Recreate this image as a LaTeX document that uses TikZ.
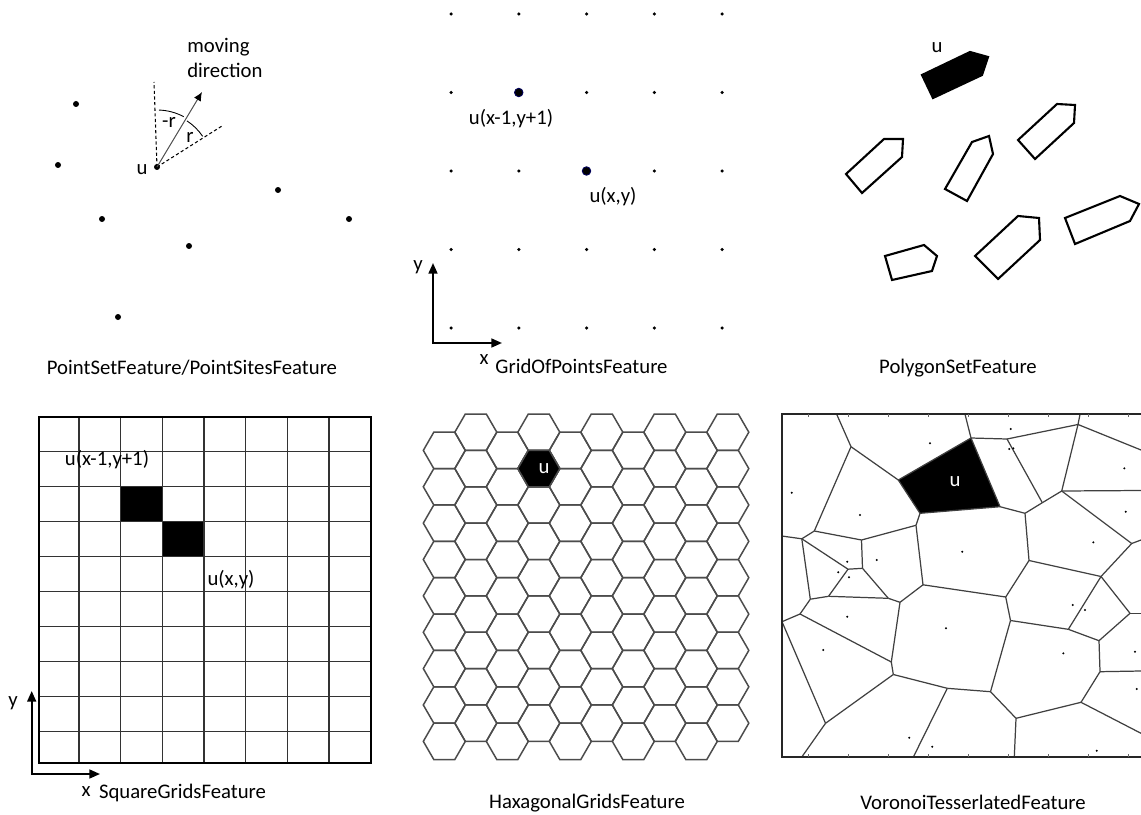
\documentclass[tikz,border=0pt]{standalone}
\usepackage{fontspec}
\setmainfont{Carlito}
\usetikzlibrary{arrows.meta, calc}

\begin{document}
\begin{tikzpicture}[
    x=0.02cm, y=-0.02cm,
    font=\fontsize{11.8}{14}\selectfont,
    site/.style={circle, fill=black, inner sep=0pt, minimum size=0.12cm},
    gpoint/.style={circle, fill=black, inner sep=0pt, minimum size=0.07cm},
    gpick/.style={circle, fill=black, draw=blue!35!black, line width=0.5pt,
      inner sep=0pt, minimum size=0.17cm},
    seed/.style={circle, fill=black, inner sep=0pt, minimum size=0.045cm},
    lbl/.style={inner sep=0pt},
    caption/.style={inner sep=0pt},
    guide/.style={dash pattern=on 1.8pt off 1.4pt, line width=0.6pt},
    movearrow/.style={draw=black!70, line width=0.55pt,
      -{Latex[length=5pt, width=4.5pt, black]}},
    axispair/.style={line width=1.1pt,
      {Triangle[length=6pt, width=5pt]}-{Triangle[length=6pt, width=5pt]}},
    boat/.style={line width=1.2pt, line join=miter},
    sqcell/.style={draw=black!80, line width=0.75pt},
    sqframe/.style={draw=black, line width=1.1pt},
    hexcell/.style={draw=black!70, line width=0.85pt},
    vedge/.style={draw=black!75, line width=0.7pt},
    vframe/.style={draw=black!85, line width=1.2pt}
  ]
  \useasboundingbox (0,0) rectangle (1141,814);

  % ---- PointSetFeature ----
  \node[site] (u1) at (157,167) {};
  \foreach \px/\py [count=\k] in {76/104, 58/165, 278/190, 349/219, 102/219, 189/246, 118/317}
    \node[site] (ps\k) at (\px,\py) {};
  \coordinate (dirv)   at (154,82);
  \coordinate (dirr)   at (222,126);
  \coordinate (dirtip) at (202,92);
  \draw[guide] (u1.center) -- (dirv);
  \draw[guide] (u1.center) -- (dirr);
  \draw[movearrow] (u1.center) -- (dirtip);
  \draw[line width=0.5pt] ($(u1.center)+(62:1.14cm)$) arc[start angle=62, end angle=88, radius=1.14cm];
  \draw[line width=0.5pt] ($(u1.center)+(34:1.1cm)$) arc[start angle=34, end angle=57, radius=1.1cm];
  \node[lbl] (u1l)  at (142,170) {u};
  \node[lbl] (rneg) at (169,122) {-r};
  \node[lbl] (rpos) at (190,137) {r};
  \node[lbl, anchor=west, align=left, font=\fontsize{11.8}{14.7}\selectfont] (mvdir) at (187,58)
    {moving\\direction};
  \node[caption] (cap1) at (192,368) {PointSetFeature/PointSitesFeature};

  % ---- GridOfPointsFeature ----
  \foreach \i in {0,...,4}
    \foreach \j in {0,...,4}
      \node[gpoint] (g\i\j) at (451+67.75*\i, 14+78.5*\j) {};
  \node[gpick] (gu1) at (g11) {};
  \node[gpick] (gu2) at (g22) {};
  \node[lbl] (gu1l) at (511,119) {u(x-1,y+1)};
  \node[lbl] (gu2l) at (613,197) {u(x,y)};
  \coordinate (go) at (433,343);
  \coordinate (gy) at (433,263);
  \coordinate (gx) at (502,343);
  \draw[axispair] (gy) -- (go) -- (gx);
  \node[lbl] (gyl) at (418,267) {y};
  \node[lbl] (gxl) at (484,360) {x};
  \node[caption] (cap2) at (581.5,366) {GridOfPointsFeature};

  % ---- PolygonSetFeature ----
  \filldraw[boat] (922,75) -- (970,52) -- (988,57) -- (982,75) -- (933,98) -- cycle;
  \draw[boat] (846,174) -- (884,139) -- (903,139) -- (902,157) -- (862,193) -- cycle;
  \draw[boat] (945,189) -- (972,142) -- (989,136) -- (993,154) -- (967,201) -- cycle;
  \draw[boat] (1018,140) -- (1057,104) -- (1075,105) -- (1074,123) -- (1035,159) -- cycle;
  \draw[boat] (885,256) -- (924,245) -- (937,256) -- (932,271) -- (892,280) -- cycle;
  \draw[boat] (975,256) -- (1018,216) -- (1039,218) -- (1040,240) -- (998,279) -- cycle;
  \draw[boat] (1065,218) -- (1120,196) -- (1139,204) -- (1130,221) -- (1075,244) -- cycle;
  \node[lbl] (pu) at (937,48) {u};
  \node[caption] (cap3) at (958,368) {PolygonSetFeature};

  % ---- SquareGridsFeature ----
  \fill (120.8,486.7) rectangle (162.45,521.7);
  \fill (162.45,521.7) rectangle (204.1,556.7);
  \foreach \k in {1,...,7}
    \draw[sqcell] (37.5+41.65*\k,416.7) -- (37.5+41.65*\k,762.7);
  \foreach \k in {1,...,9}
    \draw[sqcell] (39.3,416.7+35*\k) -- (370.7,416.7+35*\k);
  \draw[sqframe] (39.3,416.7) rectangle (370.7,762.7);
  \node[lbl] (su1l) at (107,460) {u(x-1,y+1)};
  \node[lbl] (su2l) at (231,580) {u(x,y)};
  \coordinate (so) at (31.7,774);
  \coordinate (sy) at (31.7,691);
  \coordinate (sx) at (100,774);
  \draw[axispair] (sy) -- (so) -- (sx);
  \node[lbl] (syl) at (13,703) {y};
  \node[lbl] (sxl) at (86,792) {x};
  \node[caption] (cap4) at (182.5,793) {SquareGridsFeature};

  % ---- HaxagonalGridsFeature ----
  \foreach \c in {0,...,9}
    \foreach \r in {0,...,8} {
      \pgfmathsetmacro\hx{444.3+31.5*\c}
      \pgfmathsetmacro\hy{432.2+36.37*\r+18.19*(1-mod(\c,2))}
      \draw[hexcell] (\hx-21,\hy) -- ++(10.5,-18.19) -- ++(21,0) -- ++(10.5,18.19)
        -- ++(-10.5,18.19) -- ++(-21,0) -- cycle;
    }
  \filldraw[hexcell, fill=black] (517.8,468.6) -- ++(10.5,-18.19) -- ++(21,0) -- ++(10.5,18.19)
    -- ++(-10.5,18.19) -- ++(-21,0) -- cycle;
  \node[lbl, text=white] (hu) at (544,469) {u};
  \node[caption] (cap5) at (587,803) {HaxagonalGridsFeature};

  % ---- VoronoiTesserlatedFeature ----
  \coordinate (vA)  at (836.7,414.3);  \coordinate (vB)  at (851,446.7);
  \coordinate (vC)  at (898.3,480);    \coordinate (vD)  at (814.3,531);
  \coordinate (vE)  at (971,438);      \coordinate (vF)  at (1000,506.7);
  \coordinate (vG)  at (920,513.3);    \coordinate (vH)  at (1007,439);
  \coordinate (vI)  at (1078,424.5);   \coordinate (vJ)  at (1042.3,502.7);
  \coordinate (vK)  at (1025,513.3);   \coordinate (vL)  at (1061.7,491);
  \coordinate (vM)  at (1131.7,543.5); \coordinate (vN)  at (1101,576.5);
  \coordinate (vO)  at (1029,560.5);   \coordinate (vP)  at (1130,613.3);
  \coordinate (vQ)  at (1068.3,629.3); \coordinate (vR)  at (1099,640.7);
  \coordinate (vS)  at (1100,671.7);   \coordinate (vT)  at (1081,702.3);
  \coordinate (vU)  at (1016,718.3);   \coordinate (vV)  at (990.5,691.7);
  \coordinate (vW)  at (1010.5,620.5); \coordinate (vX)  at (1005.7,597);
  \coordinate (vY)  at (923,584.8);    \coordinate (vBB) at (801.8,538.8);
  \coordinate (vCC) at (861.5,540);    \coordinate (vDD) at (916,525.3);
  \coordinate (vFF) at (862.5,568.3);  \coordinate (vGG) at (848,569.2);
  \coordinate (vHH) at (900,602.3);    \coordinate (vII) at (828.5,596.3);
  \coordinate (vJJ) at (810.3,599.2);  \coordinate (vKK) at (888.3,598.3);
  \coordinate (vMM) at (800,614);      \coordinate (vNN) at (891.3,662);
  \coordinate (vOO) at (893.3,674.5);  \coordinate (vPP) at (825.5,723.3);
  \coordinate (vQQ) at (782,621.7);    \coordinate (vRR) at (947.3,688.3);
  % free ends on the frame
  \coordinate (vt2) at (965,414.3);    \coordinate (vt3) at (1080,414.3);
  \coordinate (vr1) at (1141,450);     \coordinate (vr2) at (1141,490.5);
  \coordinate (vr3) at (1141,540);     \coordinate (vr4) at (1141,613.3);
  \coordinate (vr5) at (1141,671);     \coordinate (vr6) at (1141,733.3);
  \coordinate (vb1) at (802,756.7);    \coordinate (vb2) at (913.5,756.7);
  \coordinate (vb3) at (1014.3,756.7); \coordinate (vl1) at (781.7,536);

  \fill (vC) -- (vE) -- (vF) -- (vG) -- cycle;
  \foreach \a/\b in {vA/vB, vB/vC, vB/vD, vC/vE, vE/vF, vF/vG, vG/vC, vE/vt2, vE/vH,
      vH/vI, vI/vt3, vI/vr1, vH/vJ, vK/vJ, vJ/vL, vL/vI, vL/vr2, vL/vM, vM/vr3, vM/vN,
      vF/vK, vK/vO, vO/vN, vN/vP, vN/vQ, vP/vr4, vP/vR, vQ/vR, vR/vS, vS/vr5, vS/vT,
      vT/vr6, vT/vU, vU/vb3, vU/vV, vV/vW, vW/vQ, vW/vX, vX/vO, vX/vY, vV/vRR,
      vRR/vOO, vRR/vb2, vD/vBB, vD/vCC, vBB/vl1, vBB/vGG, vBB/vJJ, vCC/vDD, vDD/vG,
      vDD/vY, vCC/vFF, vFF/vGG, vFF/vKK, vGG/vII, vJJ/vII, vII/vKK, vKK/vHH, vHH/vY,
      vHH/vNN, vJJ/vMM, vMM/vQQ, vMM/vNN, vNN/vOO, vOO/vPP, vPP/vQQ, vPP/vb1}
    \draw[vedge] (\a) -- (\b);
  \foreach \px/\py [count=\k] in {930/443.3, 1010.7/429, 1009.3/449, 1013.3/448.3,
      1124.3/468.3, 1125.7/511.7, 791.7/492.7, 860/515, 962.3/551.7, 1093.3/542.3,
      847.3/561.7, 876.7/560, 838.3/572.3, 849/577.3, 1072.7/605, 1085/610,
      847.3/616.7, 946/628.3, 823.3/650, 1063.3/653.3, 1135/651.7, 1136.7/689,
      909.3/737.7, 932.3/746.7, 1096.7/750.7}
    \node[seed] (vs\k) at (\px,\py) {};
  \draw[vframe] (1141,414.3) -- (781.7,414.3) -- (781.7,756.7) -- (1141,756.7);
  \foreach \k in {0,...,8} {
    \draw[black!60, line width=0.4pt] (808.3+40*\k,414.3) -- ++(0,3);
    \draw[black!60, line width=0.4pt] (808.3+40*\k,756.7) -- ++(0,-3);
  }
  \node[lbl, text=white] (vu) at (955,482) {u};
  \node[caption] (cap6) at (973,802) {VoronoiTesserlatedFeature};
\end{tikzpicture}
\end{document}
